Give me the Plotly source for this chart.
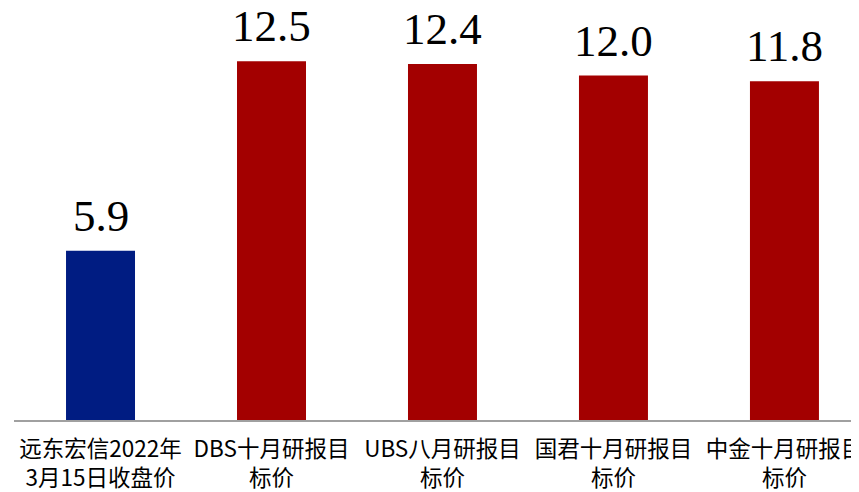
import plotly.graph_objects as go

categories = ["远东宏信2022年3月15日收盘价", "DBS十月研报目标价", "UBS八月研报目标价", "国君十月研报目标价", "中金十月研报目标价"]
tick_labels = ["远东宏信2022年<br>3月15日收盘价", "DBS十月研报目<br>标价", "UBS八月研报目<br>标价", "国君十月研报目<br>标价", "中金十月研报目<br>标价"]
values = [5.9, 12.5, 12.4, 12.0, 11.8]
colors = ["#001C82", "#A30000", "#A30000", "#A30000", "#A30000"]

fig = go.Figure()
fig.add_trace(go.Bar(x=categories, y=values, marker=dict(color=colors, line=dict(width=0)),
                     hoverinfo="skip"))

for c, v in zip(categories, values):
    fig.add_annotation(x=c, y=v, text=f"{v:.1f}", showarrow=False, yanchor="bottom", yshift=8,
                       font=dict(family="Liberation Serif, serif", size=45, color="#000000"))

fig.update_layout(
    width=851, height=484,
    margin=dict(l=6, r=0, t=0, b=72),
    paper_bgcolor="white", plot_bgcolor="white",
    bargap=0.5965, showlegend=False,
    font=dict(family="Noto Sans CJK SC, sans-serif", size=22.5, color="#000000"),
)
fig.update_xaxes(range=[-0.506, 4.436], tickmode="array", tickvals=categories, ticktext=tick_labels,
                 showline=True, linecolor="#A0A0A0", linewidth=2, showgrid=False, ticks="",
                 automargin=False, tickfont=dict(size=22.5), ticklabelstandoff=8)
fig.update_yaxes(range=[0, 14.355], visible=False, showgrid=False, zeroline=False)

fig.write_html("out.html", config={"displayModeBar": False})
